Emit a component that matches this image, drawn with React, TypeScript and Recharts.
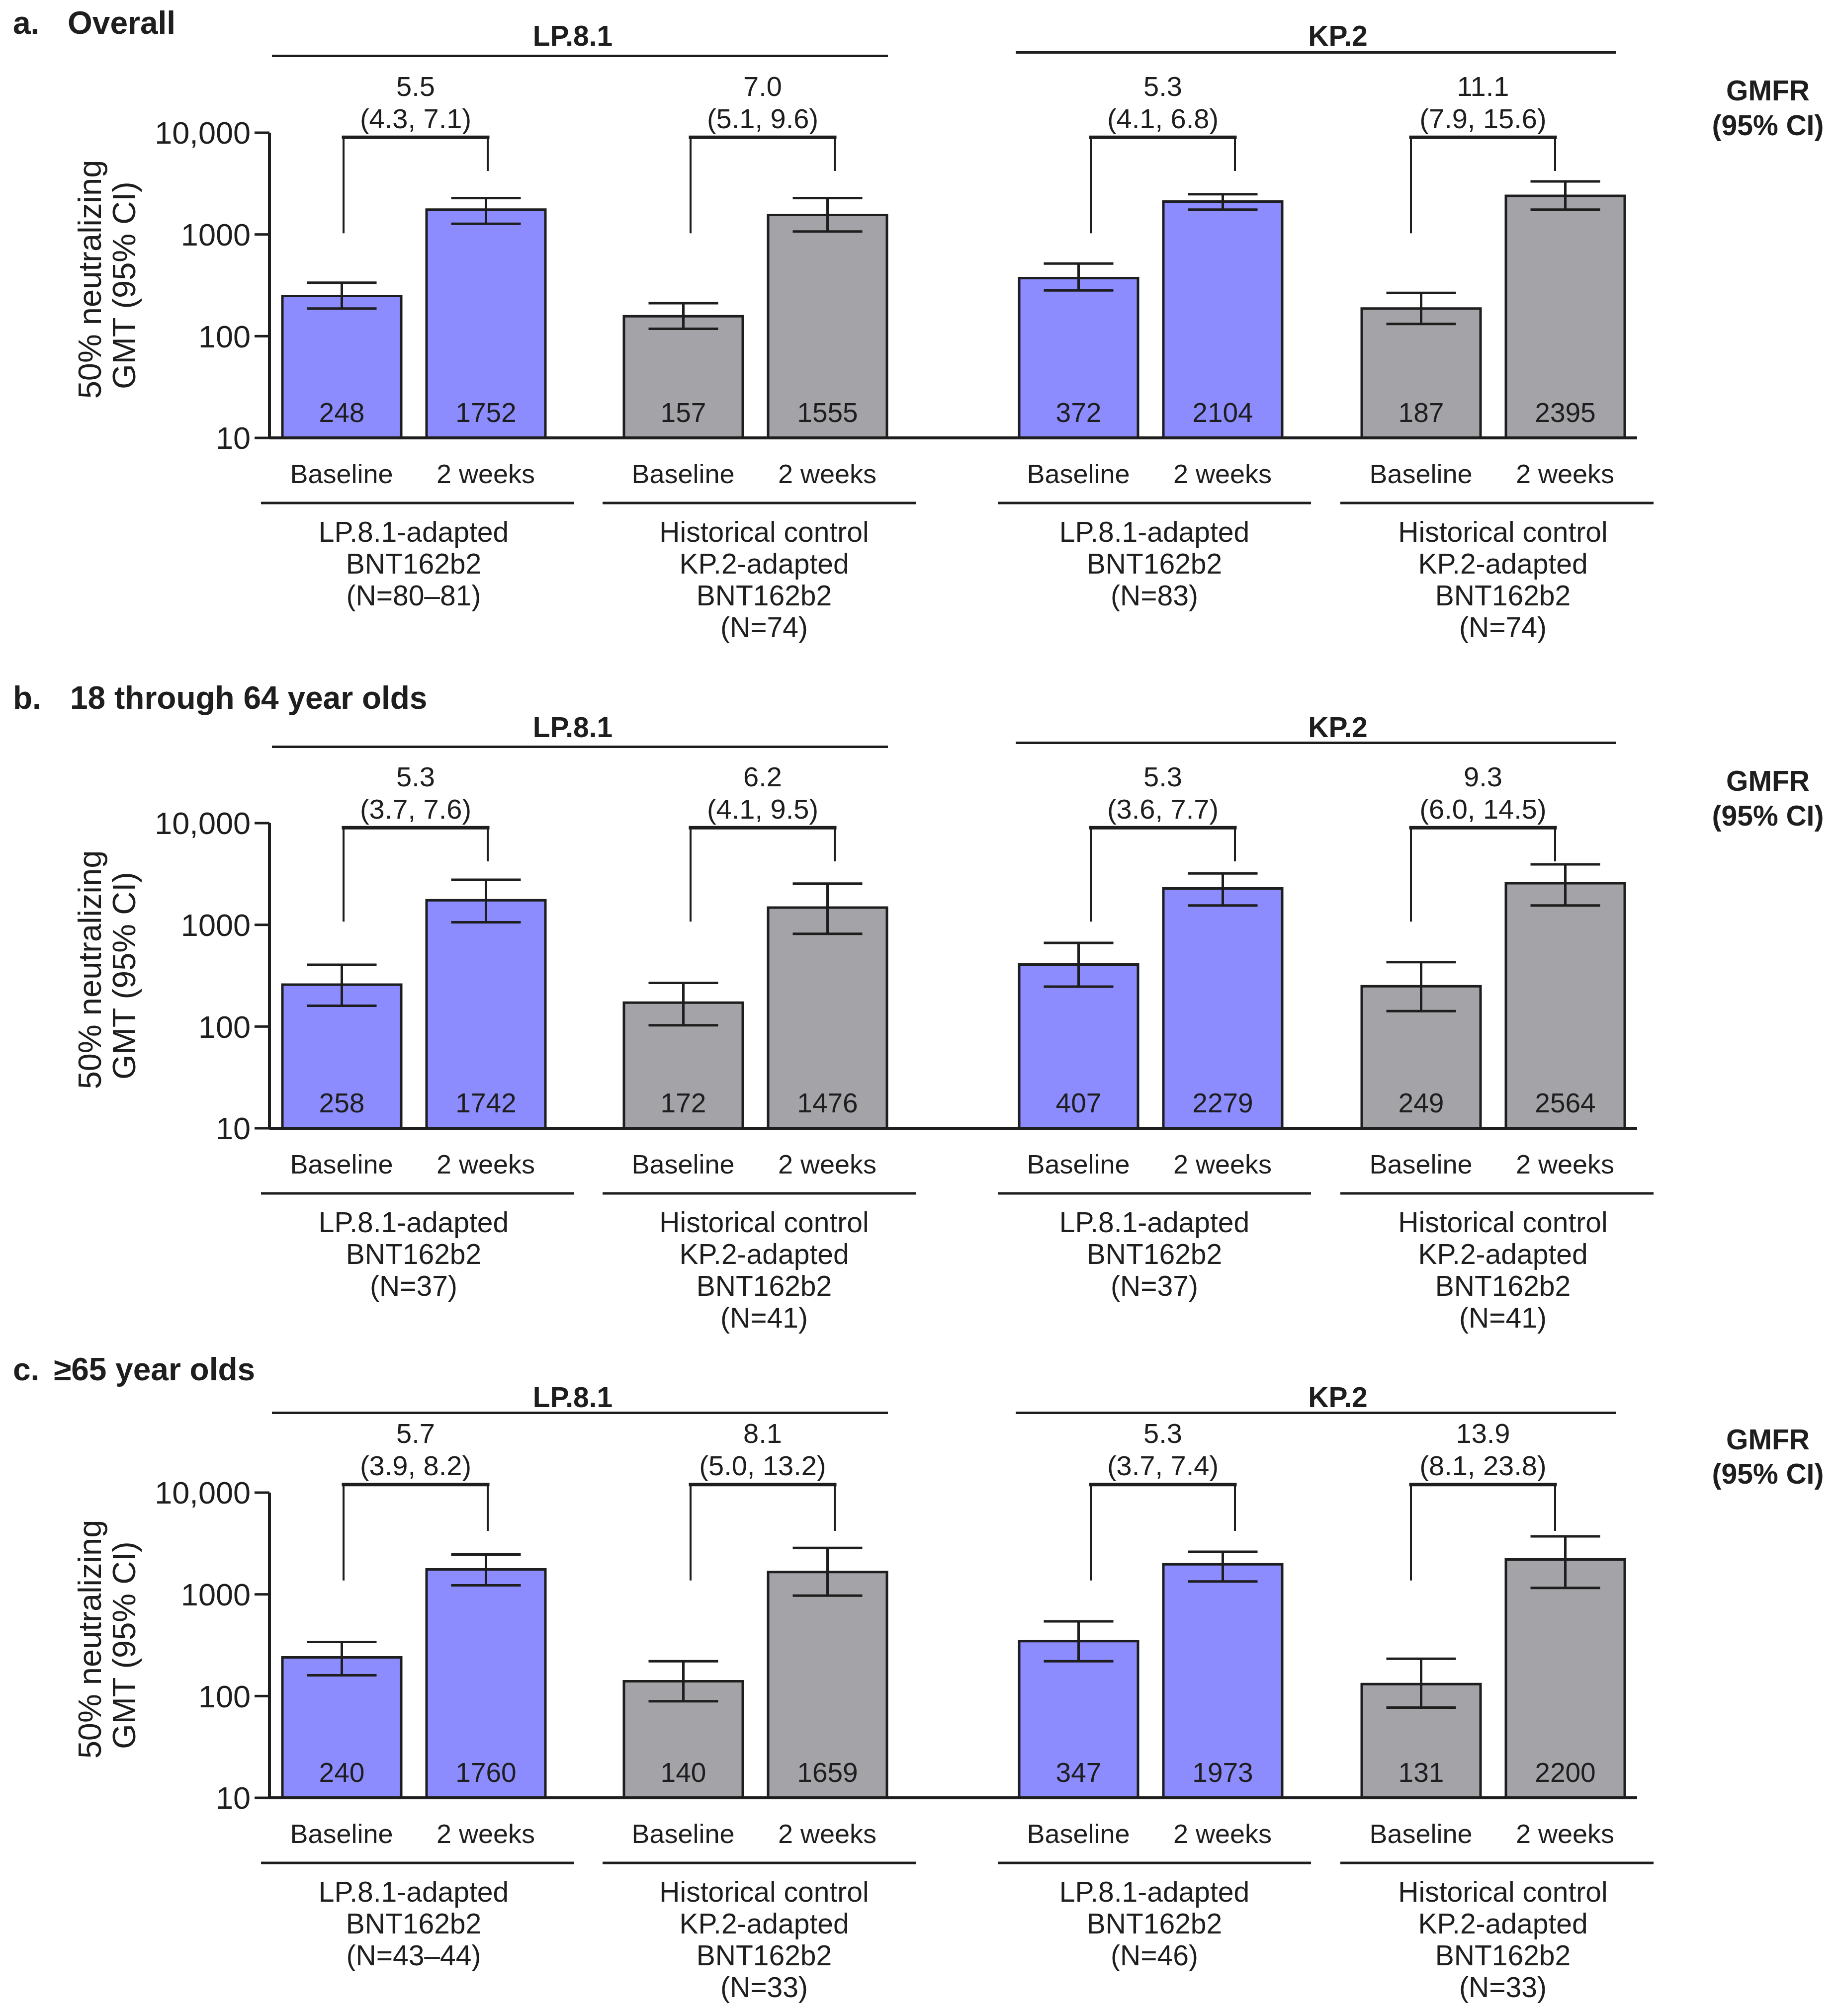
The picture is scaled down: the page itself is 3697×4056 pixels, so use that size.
import React from 'react'
import { BarChart, Bar, XAxis, YAxis, ErrorBar, LabelList, ReferenceLine } from 'recharts'

const FONT = '"Liberation Sans", Arial, Helvetica, sans-serif'
const INK = '#1e1e1e'
const BLUE = '#8c8cff'
const GREY = '#a4a4a8'

// ---- data ----
const timepoints = ['Baseline', '2 weeks']
const strains = ['LP.8.1', 'KP.2']
const vaccineNames = [
  ['LP.8.1-adapted', 'BNT162b2'],
  ['Historical control', 'KP.2-adapted', 'BNT162b2'],
  ['LP.8.1-adapted', 'BNT162b2'],
  ['Historical control', 'KP.2-adapted', 'BNT162b2'],
]
const panelLetters = ['a.', 'b.', 'c.']
const panelTitles = ['Overall', '18 through 64 year olds', '≥65 year olds']
const yTicks = [10, 100, 1000, 10000]

// a. Overall
const overallN = ['(N=80–81)', '(N=74)', '(N=83)', '(N=74)']
const overallGmt = [248, 1752, 157, 1555, 372, 2104, 187, 2395]
const overallLo = [187, 1274, 118, 1069, 282, 1754, 132, 1754]
const overallHi = [335, 2275, 211, 2275, 518, 2483, 266, 3320]
const overallGmfr = [5.5, 7.0, 5.3, 11.1]
const overallGmfrLo = [4.3, 5.1, 4.1, 7.9]
const overallGmfrHi = [7.1, 9.6, 6.8, 15.6]

// b. 18 through 64
const youngerN = ['(N=37)', '(N=41)', '(N=37)', '(N=41)']
const youngerGmt = [258, 1742, 172, 1476, 407, 2279, 249, 2564]
const youngerLo = [160, 1060, 103, 815, 247, 1549, 142, 1549]
const youngerHi = [405, 2775, 269, 2540, 665, 3205, 430, 3935]
const youngerGmfr = [5.3, 6.2, 5.3, 9.3]
const youngerGmfrLo = [3.7, 4.1, 3.6, 6.0]
const youngerGmfrHi = [7.6, 9.5, 7.7, 14.5]

// c. >=65
const olderN = ['(N=43–44)', '(N=33)', '(N=46)', '(N=33)']
const olderGmt = [240, 1760, 140, 1659, 347, 1973, 131, 2200]
const olderLo = [160, 1228, 89, 970, 220, 1340, 77, 1156]
const olderHi = [340, 2466, 220, 2860, 542, 2620, 233, 3716]
const olderGmfr = [5.7, 8.1, 5.3, 13.9]
const olderGmfrLo = [3.9, 5.0, 3.7, 8.1]
const olderGmfrHi = [8.2, 13.2, 7.4, 23.8]

const panels = [
  { n: overallN, gmt: overallGmt, lo: overallLo, hi: overallHi, gmfr: overallGmfr, gLo: overallGmfrLo, gHi: overallGmfrHi },
  { n: youngerN, gmt: youngerGmt, lo: youngerLo, hi: youngerHi, gmfr: youngerGmfr, gLo: youngerGmfrLo, gHi: youngerGmfrHi },
  { n: olderN, gmt: olderGmt, lo: olderLo, hi: olderHi, gmfr: olderGmfr, gLo: olderGmfrLo, gHi: olderGmfrHi },
]

// ---- layout ----
const Y_AXIS_W = 542
const PLOT_H = 614
const TOP_M = 300
const X_AXIS_H = 120
const BOTTOM_M = 300
const EXTRA_R = 60
const CHART_H = TOP_M + PLOT_H + X_AXIS_H + BOTTOM_M
const BAR_W = 239
const groupFill = [BLUE, GREY, BLUE, GREY]

// each vaccine group is its own small chart; the charts abut so the x axis reads as one line
const groupBoxes = [
  { left: 0, width: 1176, pad: { left: 0, right: 54 }, bracketDx: 4, labelDx: 0 },
  { left: 1176, width: 741, pad: { left: 53, right: 108 }, bracketDx: 15, labelDx: 18 },
  { left: 1917, width: 742, pad: { left: 107, right: 55 }, bracketDx: 25, labelDx: 8 },
  { left: 2659, width: 634, pad: { left: 54, right: 0 }, bracketDx: -20, labelDx: 20 },
]

const panelFrames = [
  { plotTop: 267, titleY: 46, titleX: 136, headerY: 72, lineY: [112, 105], gmfrY: [182, 252], bracketTop: 9000, legLow: 1050 },
  { plotTop: 1656, titleY: 1404, titleX: 141, headerY: 1463, lineY: [1502, 1494], gmfrY: [1571, 1641], bracketTop: 9000, legLow: 1100 },
  { plotTop: 3003, titleY: 2755, titleX: 108, headerY: 2811, lineY: [2842, 2842], gmfrY: [2896, 2965], bracketTop: 12000, legLow: 1400 },
]
const LEG_HIGH = 4300
const headerX = [1152, 2691]
const headerLine = [
  [547, 1786],
  [2043, 3250],
]
const GMFR_X = 3556

function textStyle(x: number, y: number, size: number, bold: boolean, anchor: 'left' | 'center') {
  return {
    position: 'absolute' as const,
    left: x,
    top: y,
    transform: anchor === 'center' ? 'translate(-50%, -50%)' : 'translate(0, -50%)',
    fontFamily: FONT,
    fontSize: size,
    fontWeight: bold ? 700 : 400,
    color: INK,
    lineHeight: 1,
    whiteSpace: 'nowrap' as const,
  }
}

function TimeTick(props: any) {
  const { x, y, payload } = props
  return (
    <text x={x} y={y + 72} textAnchor="middle" dominantBaseline="central" fontSize={54} fontFamily={FONT} fill={INK}>
      {payload.value}
    </text>
  )
}

function VaccineLabel({ viewBox, pad, lines, dx }: any) {
  if (!viewBox) return null
  const cx = viewBox.x + pad.left + (viewBox.width - pad.left - pad.right) / 2
  return (
    <g>
      <line x1={cx + 8 - 315} x2={cx + 8 + 315} y1={viewBox.y + 131} y2={viewBox.y + 131} stroke={INK} strokeWidth={5} />
      {lines.map((l: string, i: number) => (
        <text
          key={i}
          x={cx + dx}
          y={viewBox.y + 189 + i * 64}
          textAnchor="middle"
          dominantBaseline="central"
          fontSize={57}
          fontFamily={FONT}
          fill={INK}
        >
          {l}
        </text>
      ))}
    </g>
  )
}

function YTitle({ viewBox }: any) {
  if (!viewBox) return null
  const cy = viewBox.y + viewBox.height / 2
  return (
    <g fontFamily={FONT} fontSize={65} fill={INK}>
      <text transform={`translate(180, ${cy - 12}) rotate(-90)`} textAnchor="middle" dominantBaseline="central">
        50% neutralizing
      </text>
      <text transform={`translate(249, ${cy}) rotate(-90)`} textAnchor="middle" dominantBaseline="central">
        GMT (95% CI)
      </text>
    </g>
  )
}

function GmfrText({ viewBox, ratio, ci, dx }: any) {
  if (!viewBox) return null
  const cx = viewBox.x + viewBox.width / 2 + dx
  return (
    <g fontFamily={FONT} fontSize={56} fill={INK} textAnchor="middle">
      <text x={cx} y={viewBox.y - 103} dominantBaseline="central">{ratio}</text>
      <text x={cx} y={viewBox.y - 38} dominantBaseline="central">{ci}</text>
    </g>
  )
}

// bracket segments sit a little off the bar centres in the original
const shiftedLine = (dx: number, width: number) => (p: any) => (
  <line x1={p.x1 + dx} y1={p.y1} x2={p.x2 + dx} y2={p.y2} stroke={INK} strokeWidth={width} strokeLinecap="square" />
)

function GroupChart({ data, frame, g }: any) {
  const box = groupBoxes[g]
  const rows = timepoints.map((t, j) => {
    const i = g * 2 + j
    return { time: t, gmt: data.gmt[i], err: [data.gmt[i] - data.lo[i], data.hi[i] - data.gmt[i]] }
  })
  const ratio = data.gmfr[g].toFixed(1)
  const ci = `(${data.gLo[g].toFixed(1)}, ${data.gHi[g].toFixed(1)})`
  const first = g === 0
  return (
    <div style={{ position: 'absolute', left: box.left, top: frame.plotTop - TOP_M }}>
      <BarChart
        width={box.width + EXTRA_R}
        height={CHART_H}
        data={rows}
        margin={{ top: TOP_M, right: EXTRA_R, bottom: BOTTOM_M, left: 0 }}
      >
        <XAxis
          dataKey="time"
          padding={box.pad}
          height={X_AXIS_H}
          interval={0}
          tickLine={false}
          tickSize={0}
          tickMargin={0}
          axisLine={{ stroke: INK, strokeWidth: 6 }}
          tick={<TimeTick />}
          label={{
            content: (lp: any) => (
              <VaccineLabel viewBox={lp.viewBox} pad={box.pad} dx={box.labelDx} lines={[...vaccineNames[g], data.n[g]]} />
            ),
          }}
        />
        {first ? (
          <YAxis
            scale="log"
            domain={[10, 10000]}
            allowDataOverflow
            ticks={yTicks}
            interval={0}
            width={Y_AXIS_W}
            tickSize={30}
            tickMargin={8}
            axisLine={{ stroke: INK, strokeWidth: 6 }}
            tickLine={{ stroke: INK, strokeWidth: 5 }}
            tick={{ fill: INK, fontSize: 63, fontFamily: FONT }}
            tickFormatter={(v: number) => (v === 10000 ? '10,000' : String(v))}
            label={{ content: (lp: any) => <YTitle viewBox={lp.viewBox} /> }}
          />
        ) : (
          <YAxis hide scale="log" domain={[10, 10000]} allowDataOverflow ticks={yTicks} />
        )}
        <ReferenceLine
          segment={[
            { x: timepoints[0], y: frame.legLow },
            { x: timepoints[0], y: frame.bracketTop },
          ]}
          ifOverflow="visible"
          shape={shiftedLine(box.bracketDx, 4)}
        />
        <ReferenceLine
          segment={[
            { x: timepoints[1], y: LEG_HIGH },
            { x: timepoints[1], y: frame.bracketTop },
          ]}
          ifOverflow="visible"
          shape={shiftedLine(box.bracketDx, 4)}
        />
        <ReferenceLine
          segment={[
            { x: timepoints[0], y: frame.bracketTop },
            { x: timepoints[1], y: frame.bracketTop },
          ]}
          ifOverflow="visible"
          shape={shiftedLine(box.bracketDx, 7)}
          label={{ content: (lp: any) => <GmfrText viewBox={lp.viewBox} ratio={ratio} ci={ci} dx={box.bracketDx} /> }}
        />
        <Bar
          dataKey="gmt"
          fill={groupFill[g]}
          stroke={INK}
          strokeWidth={5}
          barSize={BAR_W}
          isAnimationActive={false}
        >
          <ErrorBar dataKey="err" direction="y" width={70} stroke={INK} strokeWidth={5} isAnimationActive={false} />
          <LabelList dataKey="gmt" position="insideBottom" offset={32} fill={INK} fontSize={55} fontFamily={FONT} />
        </Bar>
      </BarChart>
    </div>
  )
}

function Panel({ idx }: { idx: number }) {
  const frame = panelFrames[idx]
  const data = panels[idx]
  return (
    <>
      <div style={textStyle(26, frame.titleY, 64, true, 'left')}>{panelLetters[idx]}</div>
      <div style={textStyle(frame.titleX, frame.titleY, 64, true, 'left')}>{panelTitles[idx]}</div>
      {strains.map((s, k) => (
        <React.Fragment key={s}>
          <div style={textStyle(headerX[k], frame.headerY, 57, true, 'center')}>{s}</div>
          <div
            style={{
              position: 'absolute',
              left: headerLine[k][0],
              width: headerLine[k][1] - headerLine[k][0],
              top: frame.lineY[k] - 2,
              height: 5,
              background: INK,
            }}
          />
        </React.Fragment>
      ))}
      <div style={textStyle(GMFR_X, frame.gmfrY[0], 57, true, 'center')}>GMFR</div>
      <div style={textStyle(GMFR_X, frame.gmfrY[1], 57, true, 'center')}>(95% CI)</div>
      {groupBoxes.map((_, g) => (
        <GroupChart key={g} data={data} frame={frame} g={g} />
      ))}
    </>
  )
}

export default function App() {
  return (
    <div style={{ position: 'absolute', left: 0, top: 0, width: 3697, height: 4056, background: '#fff', overflow: 'hidden' }}>
      {panels.map((_, i) => (
        <Panel key={i} idx={i} />
      ))}
    </div>
  )
}
